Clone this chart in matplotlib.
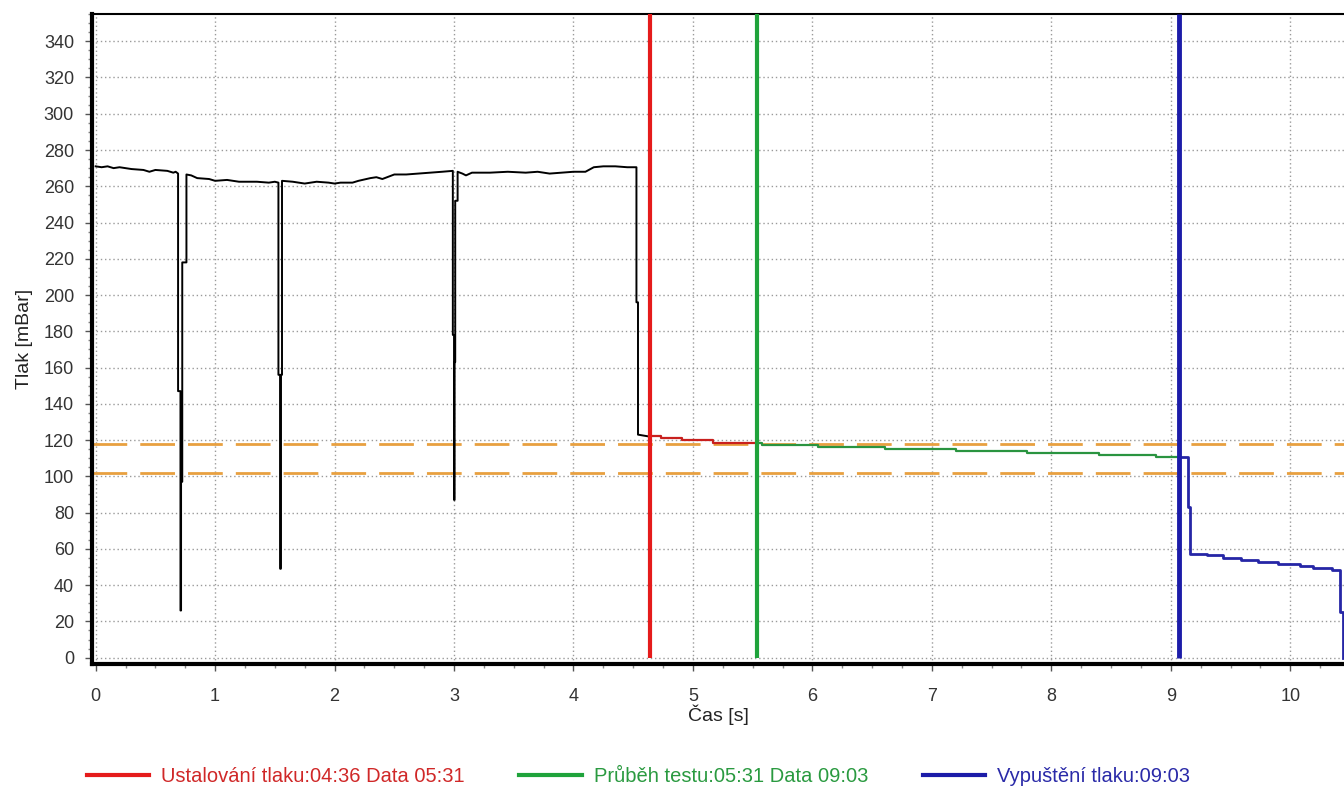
import matplotlib
matplotlib.use("Agg")
import matplotlib.pyplot as plt
from matplotlib.lines import Line2D
from matplotlib.ticker import MultipleLocator

plt.rcParams["font.family"] = ["Liberation Sans", "DejaVu Sans"]

# pressure trace before stabilisation (black)
black_t = [0.00, 0.05, 0.10, 0.15, 0.20, 0.30, 0.40, 0.45, 0.50, 0.60, 0.65, 0.67, 0.69,
           0.69, 0.71, 0.71, 0.715, 0.715, 0.725, 0.725, 0.76, 0.76,
           0.80, 0.85, 0.95, 1.00, 1.10, 1.20, 1.35, 1.45, 1.50, 1.53,
           1.53, 1.545, 1.545, 1.55, 1.55, 1.56, 1.56,
           1.65, 1.75, 1.85, 1.95, 2.00, 2.05, 2.15, 2.20, 2.30, 2.35, 2.40, 2.50,
           2.60, 2.70, 2.80, 2.90, 2.99,
           2.99, 3.00, 3.00, 3.005, 3.005, 3.01, 3.01, 3.03, 3.03,
           3.07, 3.10, 3.15, 3.30, 3.45, 3.60, 3.70, 3.80, 3.90, 4.00, 4.10,
           4.17, 4.25, 4.35, 4.45, 4.527, 4.527, 4.54, 4.54, 4.63]
black_p = [271, 270.5, 271, 270, 270.5, 269.5, 269, 268, 269, 268.5, 267.5, 268, 267,
           147, 147, 26, 26, 97, 97, 218, 218, 266.5,
           266, 264.5, 264, 263, 263.5, 262.5, 262.5, 262, 262.5, 262,
           156, 156, 49, 49, 156, 156, 263,
           262.5, 261.5, 262.5, 262, 261.5, 262, 262, 263, 264.5, 265, 264, 266.5,
           266.5, 267, 267.5, 268, 268.5,
           178, 178, 87, 87, 163, 163, 252, 252, 268,
           267, 266, 267.5, 267.5, 268, 267.5, 268, 267, 267.5, 268, 268,
           270.5, 271, 271, 270.5, 270.5, 196, 196, 123, 122]

# stabilisation phase (red), step data
red_t = [4.63, 4.73, 4.91, 5.17, 5.54]
red_p = [122, 121, 120, 118.5, 118.5]

# test phase (green)
green_t = [5.54, 5.58, 6.05, 6.61, 7.20, 7.80, 8.40, 8.88, 9.07]
green_p = [118.5, 117.3, 116, 115, 114, 113, 112, 110.6, 110.6]

# release phase (blue)
blue_t = [9.07, 9.14, 9.16, 9.30, 9.44, 9.59, 9.73, 9.90, 10.08, 10.19, 10.35, 10.42, 10.44]
blue_p = [110.5, 83, 57.3, 56.4, 55.1, 54, 52.6, 51.4, 50.4, 49.5, 48.4, 25.4, 0]

# phase markers and tolerance band
t_stab, t_test, t_release = 4.64, 5.54, 9.07
limit_hi, limit_lo = 118, 102

labels = ["Ustalování tlaku:04:36 Data 05:31",
          "Průběh testu:05:31 Data 09:03",
          "Vypuštění tlaku:09:03"]

RED, GREEN, BLUE = "#e51b1b", "#1fa33b", "#1c1ca8"
YMAX = 355

fig = plt.figure(figsize=(13.44, 7.93), dpi=100)
ax = fig.add_axes([0.0685, 0.1627, 0.9315, 0.8196])

ax.plot(black_t, black_p, color="black", lw=1.4, zorder=3)
ax.plot(red_t, red_p, color="#c8201e", lw=1.6, drawstyle="steps-post", zorder=3)
ax.plot(green_t, green_p, color="#2a9440", lw=1.6, drawstyle="steps-post", zorder=3)
ax.plot(blue_t, blue_p, color="#2626a6", lw=2.0, drawstyle="steps-post", zorder=3)

for y in (limit_hi, limit_lo):
    ax.axhline(y, color="#e8a040", lw=2, dashes=(12.5, 4.7), zorder=2)

ax.vlines(t_stab, 0, YMAX, color=RED, lw=3, zorder=4)
ax.vlines(t_test, 0, YMAX, color=GREEN, lw=3, zorder=4)
ax.vlines(t_release, 0, YMAX, color=BLUE, lw=3.5, zorder=4)

ax.set_xlim(-0.03, 10.45)
ax.set_ylim(-3.5, YMAX)
ax.set_xticks(range(0, 11))
ax.set_yticks(range(0, 341, 20))
ax.xaxis.set_minor_locator(MultipleLocator(0.25))
ax.yaxis.set_minor_locator(MultipleLocator(5))
ax.tick_params(axis="both", which="major", labelsize=13, labelcolor="#333333",
               length=5, width=1, color="#555555")
ax.tick_params(axis="x", which="major", pad=12)
ax.tick_params(axis="y", which="major", pad=8)
ax.tick_params(axis="both", which="minor", length=3, width=1, color="#888888")
ax.grid(True, which="major", color="#9a9a9a", lw=1, linestyle=(0, (1, 2)))

for side in ("left", "bottom"):
    ax.spines[side].set_linewidth(3)
ax.spines["top"].set_linewidth(1.5)
ax.spines["right"].set_visible(False)

ax.set_xlabel("Čas [s]", fontsize=14, color="#222222", labelpad=0)
ax.set_ylabel("Tlak [mBar]", fontsize=14, color="#222222", labelpad=8)

handles = [Line2D([], [], color=c, lw=3) for c in (RED, GREEN, BLUE)]
leg = fig.legend(handles, labels, loc="center", bbox_to_anchor=(0.475, 0.021), ncol=3,
                 frameon=False, fontsize=14.5, handlelength=3.1, handletextpad=0.6,
                 columnspacing=2.7)
for txt, c in zip(leg.get_texts(), ("#d02828", "#2a9a40", "#2a2aa8")):
    txt.set_color(c)

fig.savefig("out.png", dpi=100)
